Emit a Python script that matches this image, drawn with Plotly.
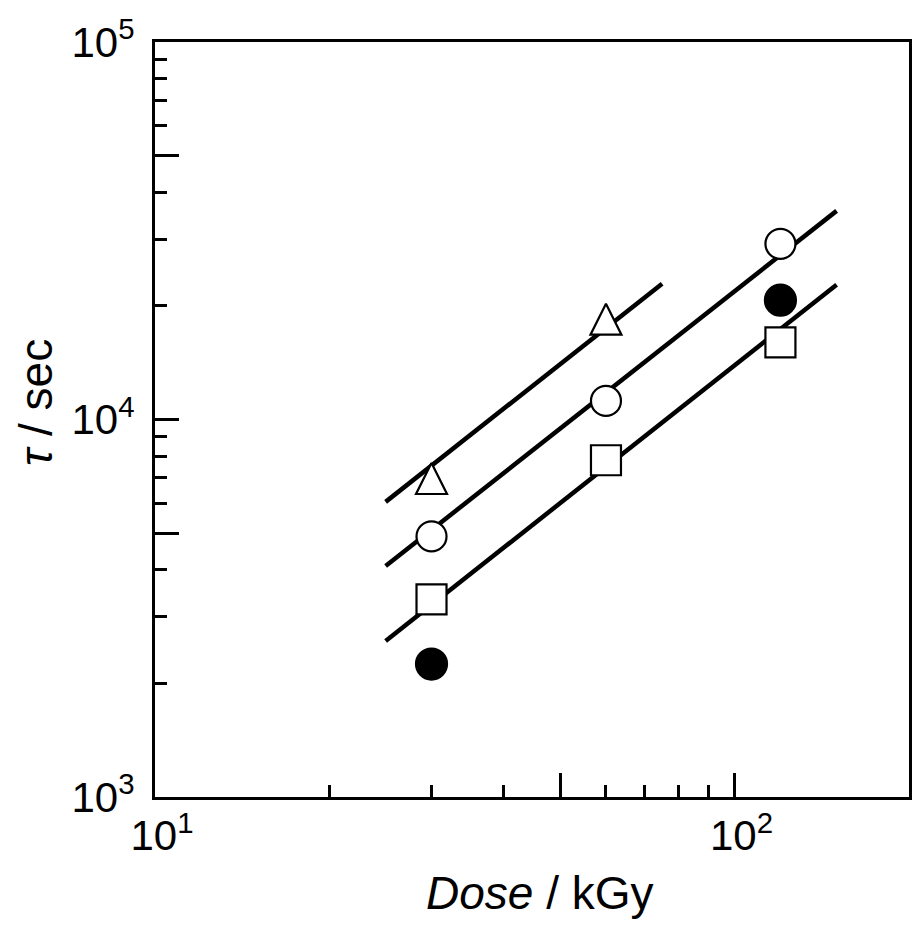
import plotly.graph_objects as go

# ---- data ----
dose_tri = [30, 60]
tau_tri = [7000, 18500]

dose_circ = [30, 60, 120]
tau_circ = [4900, 11200, 29200]

dose_sq = [30, 60, 120]
tau_sq = [3340, 7800, 16000]

dose_fill = [30, 120]
tau_fill = [2250, 20700]

fit_tri_x = [25, 75]
fit_tri_y = [6050, 22900]
fit_circ_x = [25, 150]
fit_circ_y = [4090, 35700]
fit_sq_x = [25, 150]
fit_sq_y = [2590, 22750]

x_major = [10, 50, 100]
x_major_text = ["10<sup>1</sup>", "", "10<sup>2</sup>"]
x_minor = [20, 30, 40, 60, 70, 80, 90]
y_major = [1e3, 5e3, 1e4, 5e4, 1e5]
y_major_text = ["10<sup>3</sup>", "", "10<sup>4</sup>", "", "10<sup>5</sup>"]
y_minor = [2e3, 3e3, 4e3, 6e3, 7e3, 8e3, 9e3, 2e4, 3e4, 4e4, 6e4, 7e4, 8e4, 9e4]

x_title = "<i>Dose</i> / kGy"
y_title = "<i>τ</i> / sec"

FONT = "Arial, Liberation Sans, sans-serif"

fig = go.Figure()
for fx, fy in [(fit_tri_x, fit_tri_y), (fit_circ_x, fit_circ_y), (fit_sq_x, fit_sq_y)]:
    fig.add_trace(go.Scatter(x=fx, y=fy, mode="lines",
                             line=dict(color="black", width=4.5), hoverinfo="skip"))

mk_line = dict(color="black", width=2.2)
fig.add_trace(go.Scatter(x=dose_tri, y=tau_tri, mode="markers",
                         marker=dict(symbol="arrow-down", angle=180, standoff=15, size=31,
                                     color="white", line=mk_line)))
fig.add_trace(go.Scatter(x=dose_circ, y=tau_circ, mode="markers",
                         marker=dict(symbol="circle", size=30, color="white", line=mk_line)))
fig.add_trace(go.Scatter(x=dose_sq, y=tau_sq, mode="markers",
                         marker=dict(symbol="square", size=30, color="white", line=mk_line)))
fig.add_trace(go.Scatter(x=dose_fill, y=tau_fill, mode="markers",
                         marker=dict(symbol="circle", size=31, color="black", line=mk_line)))

fig.update_layout(
    width=916, height=926,
    margin=dict(l=155, r=4, t=42, b=129),
    paper_bgcolor="white", plot_bgcolor="white",
    showlegend=False,
    font=dict(family=FONT, size=42, color="black"),
    annotations=[
        dict(text=x_title, xref="paper", yref="paper", x=0.51, y=-0.127,
             xanchor="center", yanchor="middle", showarrow=False,
             font=dict(size=46)),
        dict(text=y_title, xref="paper", yref="paper", x=-0.1585, y=0.5225,
             xanchor="center", yanchor="middle", showarrow=False, textangle=-90,
             font=dict(size=46)),
    ],
)
fig.update_xaxes(
    type="log", range=[1, 2.30103],
    showline=True, linecolor="black", linewidth=3, mirror=True,
    showgrid=False, zeroline=False,
    tickmode="array", tickvals=x_major, ticktext=x_major_text,
    ticks="inside", ticklen=24, tickwidth=3, tickcolor="black",
    tickfont=dict(size=42), ticklabelshift=7,
    minor=dict(tickmode="array", tickvals=x_minor, ticks="inside",
               ticklen=12, tickwidth=3, tickcolor="black", showgrid=False),
)
fig.update_yaxes(
    type="log", range=[3, 5],
    showline=True, linecolor="black", linewidth=3, mirror=True,
    showgrid=False, zeroline=False,
    tickmode="array", tickvals=y_major, ticktext=y_major_text,
    ticks="inside", ticklen=24, tickwidth=3, tickcolor="black",
    tickfont=dict(size=42), ticklabelstandoff=9,
    minor=dict(tickmode="array", tickvals=y_minor, ticks="inside",
               ticklen=12, tickwidth=3, tickcolor="black", showgrid=False),
)

fig.write_html("out.html")
